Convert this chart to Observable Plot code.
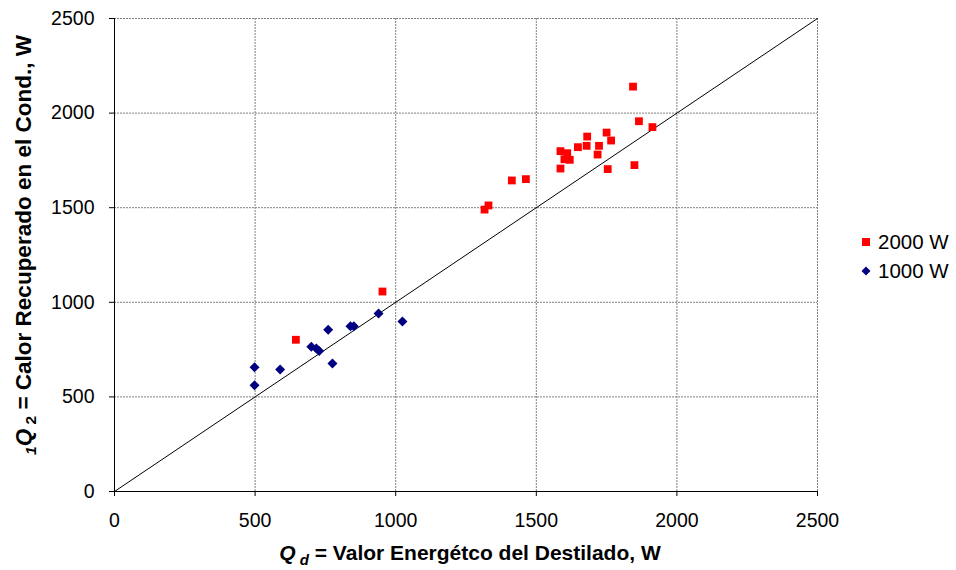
<!DOCTYPE html>
<html>
<head>
<meta charset="utf-8">
<script src="https://cdn.jsdelivr.net/npm/d3@7"></script>
<script src="https://cdn.jsdelivr.net/npm/@observablehq/plot@0.6"></script>
<style>
  html, body { margin: 0; padding: 0; background: #fff; }
  #wrap { position: relative; width: 956px; height: 570px; font-family: "Liberation Sans", Arial, sans-serif; }
  #legend { position: absolute; left: 860px; top: 227px; font-size: 20.5px; color: #000; line-height: 29px; }
  #legend div { display: flex; align-items: center; }
  #legend svg { margin-right: 6px; }
</style>
</head>
<body>
<div id="wrap"><div id="chart"></div><div id="legend"></div></div>
<script>
// ---- data ----
const xTicks = [0, 500, 1000, 1500, 2000, 2500];
const yTicks = [0, 500, 1000, 1500, 2000, 2500];
const seriesNames = ["2000 W", "1000 W"];
const seriesColors = ["#FF0000", "#000080"];
const seriesSymbols = ["square", "diamond2"];

const qd2000 = [645, 953, 1316, 1330, 1413, 1463, 1586, 1586, 1600, 1610, 1619, 1648, 1679, 1681, 1718, 1723, 1750, 1754, 1766, 1844, 1849, 1865, 1913];
const q2_2000 = [802, 1057, 1490, 1512, 1644, 1651, 1707, 1799, 1756, 1788, 1753, 1820, 1827, 1876, 1781, 1827, 1897, 1704, 1855, 2140, 1725, 1957, 1926];

const qd1000 = [498, 498, 589, 700, 718, 728, 760, 775, 839, 851, 939, 1024];
const q2_1000 = [657, 562, 645, 765, 756, 742, 855, 677, 874, 874, 941, 898];

const diagonal = [0, 2500];

// ---- build tables ----
const pts2000 = qd2000.map((x, i) => ({x, y: q2_2000[i]}));
const pts1000 = qd1000.map((x, i) => ({x, y: q2_1000[i]}));
const diag = diagonal.map(v => ({x: v, y: v}));

const font = '"Liberation Sans", Arial, sans-serif';

const chart = Plot.plot({
  width: 956,
  height: 570,
  marginLeft: 114,
  marginRight: 139,
  marginTop: 18,
  marginBottom: 79,
  style: {fontFamily: font, fontSize: "19.5px", background: "#fff", color: "#000"},
  x: {domain: [0, 2500]},
  y: {domain: [0, 2500]},
  marks: [
    Plot.gridX(xTicks, {stroke: "#808080", strokeOpacity: 1, strokeDasharray: "2,1"}),
    Plot.gridY(yTicks, {stroke: "#808080", strokeOpacity: 1, strokeDasharray: "2,1"}),
    Plot.line(diag, {x: "x", y: "y", stroke: "#000", strokeWidth: 1}),
    Plot.dot(pts2000, {x: "x", y: "y", symbol: () => seriesSymbols[0], fill: seriesColors[0], r: 4.4, stroke: "none"}),
    Plot.dot(pts1000, {x: "x", y: "y", symbol: () => seriesSymbols[1], fill: seriesColors[1], r: 4.5, stroke: "none"}),
    Plot.ruleX([0], {stroke: "#000"}),
    Plot.ruleY([0], {stroke: "#000"}),
    Plot.axisX(xTicks, {tickSize: 5, tickPadding: 17, label: null, fontSize: 19.5, stroke: "#000", tickFormat: d => String(d)}),
    Plot.axisY(yTicks, {tickSize: 5, tickPadding: 15, label: null, fontSize: 19.5, stroke: "#000", tickFormat: d => String(d)})
  ]
});
document.getElementById("chart").appendChild(chart);

// axis titles with subscripts (real text)
const svg = d3.select(chart);
const xt = svg.append("text")
  .attr("x", 470).attr("y", 560)
  .attr("text-anchor", "middle")
  .attr("font-family", font).attr("font-size", 21).attr("font-weight", "bold").attr("fill", "#000");
xt.append("tspan").attr("font-style", "italic").text("Q");
xt.append("tspan").attr("font-style", "italic").attr("font-size", 15).attr("dy", 5).text(" d");
xt.append("tspan").attr("dy", -5).text(" = Valor Energétco del Destilado, W");

const yt = svg.append("text")
  .attr("transform", "translate(31,245) rotate(-90)")
  .attr("text-anchor", "middle")
  .attr("font-family", font).attr("font-size", 22.5).attr("font-weight", "bold").attr("fill", "#000");
yt.append("tspan").attr("font-style", "italic").attr("font-size", 15.5).attr("dy", 5).text("1");
yt.append("tspan").attr("font-style", "italic").attr("dy", -5).text("Q");
yt.append("tspan").attr("font-size", 15.5).attr("dy", 5).text(" 2");
yt.append("tspan").attr("dy", -5).text(" = Calor Recuperado en el Cond., W");

// legend
const legend = d3.select("#legend");
seriesNames.forEach((name, i) => {
  const row = legend.append("div");
  const s = row.append("svg").attr("width", 12).attr("height", 12);
  s.append("path")
    .attr("transform", "translate(6,6)")
    .attr("d", d3.symbol(i === 0 ? d3.symbolSquare : d3.symbolDiamond2, i === 0 ? 64 : 52)())
    .attr("fill", seriesColors[i]);
  row.append("span").text(name);
});
</script>
</body>
</html>
